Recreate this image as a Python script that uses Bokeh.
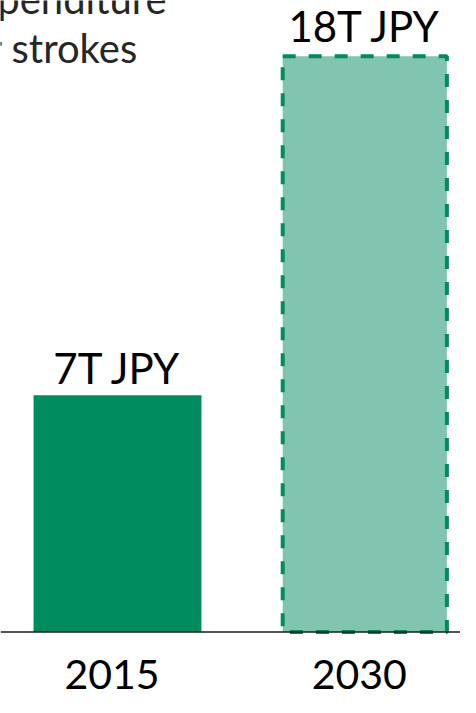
from bokeh.plotting import figure
from bokeh.models import ColumnDataSource, Range1d, Span, Label, CDSView, IndexFilter
from bokeh.core.properties import value
from bokeh.embed import file_html
from bokeh.resources import INLINE

# ---- data ----
years = ["2015", "2030"]
spend = [7.4, 18]                  # trillion JPY (bar heights as drawn)
value_labels = ["7T JPY", "18T JPY"]
title_lines = ["expenditure", "for strokes"]

# ---- styles ----
label_gap_px = [-27, -30]
FONT = value("Lato")
W, H = 460, 697

xs = list(range(len(years)))
src = ColumnDataSource(dict(x=xs, top=spend, label=value_labels, year=years, gap=label_gap_px))

p = figure(width=W, height=H, x_range=Range1d(-0.4731, 1.3870), y_range=Range1d(-2.0475, 19.741),
           output_backend="svg", toolbar_location=None, x_axis_type=None, y_axis_type=None,
           min_border=0, outline_line_color=None)
p.background_fill_color = "white"
p.border_fill_color = "white"
p.xgrid.visible = False
p.ygrid.visible = False

p.vbar(x="x", top="top", width=0.679, source=src, view=CDSView(filter=IndexFilter([0])),
       fill_color="#008C5F", line_color=None)
p.vbar(x="x", top="top", width=0.664, source=src, view=CDSView(filter=IndexFilter([1])),
       fill_color="#80C5AF", line_color="#008C5F", line_width=4, line_dash="13 13")

p.add_layout(Span(location=0, dimension="width", line_color="#1a1a1a", line_width=1.6))

p.text(x="x", y="top", text="label", source=src, y_offset="gap", text_align="center",
       text_baseline="alphabetic", text_font=FONT, text_font_size="42px", text_color="#000000")
p.text(x="x", y=0, text="year", source=src, y_offset=42, x_offset=-5.5, text_align="center",
       text_baseline="alphabetic", text_font=FONT, text_font_size="41px", text_color="#000000")

title_x = [-44, -49]
title_y = [699, 650]
for t, tx, ty in zip(title_lines, title_x, title_y):
    p.add_layout(Label(x=tx, y=ty, x_units="screen", y_units="screen", text=t,
                       text_font="Lato", text_font_size="40px", text_color="#262626",
                       text_baseline="alphabetic", text_align="left"))

open("out.html", "w").write(file_html(p, INLINE))
